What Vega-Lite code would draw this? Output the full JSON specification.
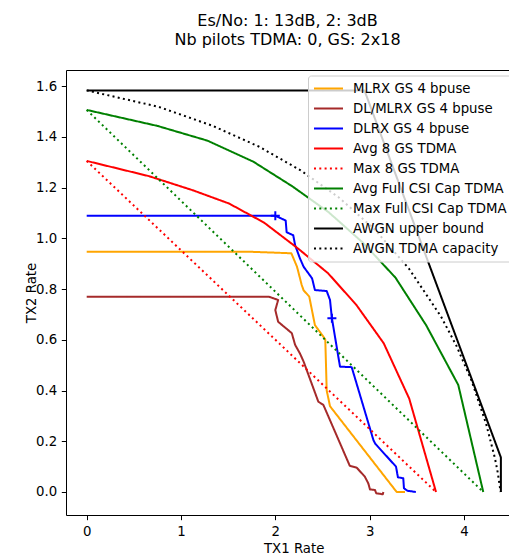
{
  "$schema": "https://vega.github.io/schema/vega-lite/v6.json",
  "width": 443,
  "height": 445,
  "autosize": "none",
  "padding": {"left": 66, "top": 70, "right": 0, "bottom": 41},
  "background": "white",
  "title": {
    "text": ["Es/No: 1: 13dB, 2: 3dB", "Nb pilots TDMA: 0, GS: 2x18"],
    "font": "DejaVu Sans", "fontSize": 16, "fontWeight": "normal", "color": "black",
    "anchor": "middle", "lineHeight": 19, "offset": 22
  },
  "config": {
    "view": {"stroke": null},
    "axis": {"grid": false}
  },
  "datasets": {
    "lines": [
      {"series": "MLRX GS 4 bpuse", "i": 0, "x": 0, "y": 0.947},
      {"series": "MLRX GS 4 bpuse", "i": 1, "x": 1.73, "y": 0.947},
      {"series": "MLRX GS 4 bpuse", "i": 2, "x": 2.17, "y": 0.941},
      {"series": "MLRX GS 4 bpuse", "i": 3, "x": 2.23, "y": 0.888},
      {"series": "MLRX GS 4 bpuse", "i": 4, "x": 2.28, "y": 0.816},
      {"series": "MLRX GS 4 bpuse", "i": 5, "x": 2.30, "y": 0.795},
      {"series": "MLRX GS 4 bpuse", "i": 6, "x": 2.36, "y": 0.77},
      {"series": "MLRX GS 4 bpuse", "i": 7, "x": 2.42, "y": 0.658},
      {"series": "MLRX GS 4 bpuse", "i": 8, "x": 2.51, "y": 0.612},
      {"series": "MLRX GS 4 bpuse", "i": 9, "x": 2.53, "y": 0.60},
      {"series": "MLRX GS 4 bpuse", "i": 10, "x": 2.545, "y": 0.40},
      {"series": "MLRX GS 4 bpuse", "i": 11, "x": 2.58, "y": 0.338},
      {"series": "MLRX GS 4 bpuse", "i": 12, "x": 3.287, "y": 0},
      {"series": "MLRX GS 4 bpuse", "i": 13, "x": 3.375, "y": 0},

      {"series": "DL/MLRX GS 4 bpuse", "i": 0, "x": 0, "y": 0.77},
      {"series": "DL/MLRX GS 4 bpuse", "i": 1, "x": 1.93, "y": 0.77},
      {"series": "DL/MLRX GS 4 bpuse", "i": 2, "x": 2.03, "y": 0.757},
      {"series": "DL/MLRX GS 4 bpuse", "i": 3, "x": 2.0, "y": 0.717},
      {"series": "DL/MLRX GS 4 bpuse", "i": 4, "x": 2.03, "y": 0.671},
      {"series": "DL/MLRX GS 4 bpuse", "i": 5, "x": 2.175, "y": 0.626},
      {"series": "DL/MLRX GS 4 bpuse", "i": 6, "x": 2.21, "y": 0.58},
      {"series": "DL/MLRX GS 4 bpuse", "i": 7, "x": 2.26, "y": 0.547},
      {"series": "DL/MLRX GS 4 bpuse", "i": 8, "x": 2.30, "y": 0.514},
      {"series": "DL/MLRX GS 4 bpuse", "i": 9, "x": 2.456, "y": 0.356},
      {"series": "DL/MLRX GS 4 bpuse", "i": 10, "x": 2.51, "y": 0.343},
      {"series": "DL/MLRX GS 4 bpuse", "i": 11, "x": 2.79, "y": 0.103},
      {"series": "DL/MLRX GS 4 bpuse", "i": 12, "x": 2.863, "y": 0.096},
      {"series": "DL/MLRX GS 4 bpuse", "i": 13, "x": 2.95, "y": 0.06},
      {"series": "DL/MLRX GS 4 bpuse", "i": 14, "x": 2.986, "y": 0.034},
      {"series": "DL/MLRX GS 4 bpuse", "i": 15, "x": 3.004, "y": 0.01},
      {"series": "DL/MLRX GS 4 bpuse", "i": 16, "x": 3.057, "y": 0.008},
      {"series": "DL/MLRX GS 4 bpuse", "i": 17, "x": 3.07, "y": -0.005},
      {"series": "DL/MLRX GS 4 bpuse", "i": 18, "x": 3.14, "y": -0.009},
      {"series": "DL/MLRX GS 4 bpuse", "i": 19, "x": 3.146, "y": 0.0},

      {"series": "DLRX GS 4 bpuse", "i": 0, "x": 0, "y": 1.089},
      {"series": "DLRX GS 4 bpuse", "i": 1, "x": 2.0, "y": 1.089},
      {"series": "DLRX GS 4 bpuse", "i": 2, "x": 2.11, "y": 1.07},
      {"series": "DLRX GS 4 bpuse", "i": 3, "x": 2.12, "y": 1.024},
      {"series": "DLRX GS 4 bpuse", "i": 4, "x": 2.19, "y": 1.012},
      {"series": "DLRX GS 4 bpuse", "i": 5, "x": 2.21, "y": 0.973},
      {"series": "DLRX GS 4 bpuse", "i": 6, "x": 2.26, "y": 0.922},
      {"series": "DLRX GS 4 bpuse", "i": 7, "x": 2.30, "y": 0.888},
      {"series": "DLRX GS 4 bpuse", "i": 8, "x": 2.39, "y": 0.842},
      {"series": "DLRX GS 4 bpuse", "i": 9, "x": 2.42, "y": 0.796},
      {"series": "DLRX GS 4 bpuse", "i": 10, "x": 2.545, "y": 0.792},
      {"series": "DLRX GS 4 bpuse", "i": 11, "x": 2.58, "y": 0.757},
      {"series": "DLRX GS 4 bpuse", "i": 12, "x": 2.60, "y": 0.685},
      {"series": "DLRX GS 4 bpuse", "i": 13, "x": 2.686, "y": 0.494},
      {"series": "DLRX GS 4 bpuse", "i": 14, "x": 2.81, "y": 0.492},
      {"series": "DLRX GS 4 bpuse", "i": 15, "x": 3.04, "y": 0.205},
      {"series": "DLRX GS 4 bpuse", "i": 16, "x": 3.06, "y": 0.19},
      {"series": "DLRX GS 4 bpuse", "i": 17, "x": 3.28, "y": 0.10},
      {"series": "DLRX GS 4 bpuse", "i": 18, "x": 3.30, "y": 0.058},
      {"series": "DLRX GS 4 bpuse", "i": 19, "x": 3.357, "y": 0.054},
      {"series": "DLRX GS 4 bpuse", "i": 20, "x": 3.364, "y": 0.015},
      {"series": "DLRX GS 4 bpuse", "i": 21, "x": 3.40, "y": 0.005},
      {"series": "DLRX GS 4 bpuse", "i": 22, "x": 3.49, "y": 0.0},

      {"series": "Avg 8 GS TDMA", "i": 0, "x": 0, "y": 1.305},
      {"series": "Avg 8 GS TDMA", "i": 1, "x": 0.66, "y": 1.245},
      {"series": "Avg 8 GS TDMA", "i": 2, "x": 1.12, "y": 1.19},
      {"series": "Avg 8 GS TDMA", "i": 3, "x": 1.51, "y": 1.137},
      {"series": "Avg 8 GS TDMA", "i": 4, "x": 1.88, "y": 1.062},
      {"series": "Avg 8 GS TDMA", "i": 5, "x": 2.24, "y": 0.96},
      {"series": "Avg 8 GS TDMA", "i": 6, "x": 2.56, "y": 0.862},
      {"series": "Avg 8 GS TDMA", "i": 7, "x": 2.86, "y": 0.737},
      {"series": "Avg 8 GS TDMA", "i": 8, "x": 3.15, "y": 0.586},
      {"series": "Avg 8 GS TDMA", "i": 9, "x": 3.42, "y": 0.368},
      {"series": "Avg 8 GS TDMA", "i": 10, "x": 3.704, "y": 0},

      {"series": "Max 8 GS TDMA", "i": 0, "x": 0, "y": 1.305},
      {"series": "Max 8 GS TDMA", "i": 1, "x": 3.704, "y": 0},

      {"series": "Avg Full CSI Cap TDMA", "i": 0, "x": 0, "y": 1.506},
      {"series": "Avg Full CSI Cap TDMA", "i": 1, "x": 0.75, "y": 1.443},
      {"series": "Avg Full CSI Cap TDMA", "i": 2, "x": 1.28, "y": 1.385},
      {"series": "Avg Full CSI Cap TDMA", "i": 3, "x": 1.767, "y": 1.302},
      {"series": "Avg Full CSI Cap TDMA", "i": 4, "x": 2.18, "y": 1.205},
      {"series": "Avg Full CSI Cap TDMA", "i": 5, "x": 2.565, "y": 1.103},
      {"series": "Avg Full CSI Cap TDMA", "i": 6, "x": 2.931, "y": 0.982},
      {"series": "Avg Full CSI Cap TDMA", "i": 7, "x": 3.274, "y": 0.845},
      {"series": "Avg Full CSI Cap TDMA", "i": 8, "x": 3.60, "y": 0.657},
      {"series": "Avg Full CSI Cap TDMA", "i": 9, "x": 3.94, "y": 0.422},
      {"series": "Avg Full CSI Cap TDMA", "i": 10, "x": 4.205, "y": 0},

      {"series": "Max Full CSI Cap TDMA", "i": 0, "x": 0, "y": 1.506},
      {"series": "Max Full CSI Cap TDMA", "i": 1, "x": 4.205, "y": 0},

      {"series": "AWGN upper bound", "i": 0, "x": 0, "y": 1.583},
      {"series": "AWGN upper bound", "i": 1, "x": 2.945, "y": 1.583},
      {"series": "AWGN upper bound", "i": 2, "x": 4.392, "y": 0.136},
      {"series": "AWGN upper bound", "i": 3, "x": 4.392, "y": 0},

      {"series": "AWGN TDMA capacity", "i": 0, "x": 0, "y": 1.583},
      {"series": "AWGN TDMA capacity", "i": 1, "x": 0.765, "y": 1.518},
      {"series": "AWGN TDMA capacity", "i": 2, "x": 1.331, "y": 1.444},
      {"series": "AWGN TDMA capacity", "i": 3, "x": 1.823, "y": 1.362},
      {"series": "AWGN TDMA capacity", "i": 4, "x": 2.268, "y": 1.268},
      {"series": "AWGN TDMA capacity", "i": 5, "x": 2.677, "y": 1.160},
      {"series": "AWGN TDMA capacity", "i": 6, "x": 3.059, "y": 1.033},
      {"series": "AWGN TDMA capacity", "i": 7, "x": 3.418, "y": 0.880},
      {"series": "AWGN TDMA capacity", "i": 8, "x": 3.758, "y": 0.691},
      {"series": "AWGN TDMA capacity", "i": 9, "x": 3.921, "y": 0.576},
      {"series": "AWGN TDMA capacity", "i": 10, "x": 4.081, "y": 0.439},
      {"series": "AWGN TDMA capacity", "i": 11, "x": 4.236, "y": 0.268},
      {"series": "AWGN TDMA capacity", "i": 12, "x": 4.329, "y": 0.133},
      {"series": "AWGN TDMA capacity", "i": 13, "x": 4.359, "y": 0.076},
      {"series": "AWGN TDMA capacity", "i": 14, "x": 4.389, "y": 0}
    ],
    "markers": [
      {"x": 2.0, "y": 1.089},
      {"x": 2.60, "y": 0.685}
    ]
  },
  "layer": [
    {
      "data": {"name": "lines"},
      "mark": {"type": "line", "strokeWidth": 2, "strokeJoin": "round", "clip": true},
      "encoding": {
        "x": {
          "field": "x", "type": "quantitative",
          "scale": {"domain": [-0.2195, 4.478], "nice": false, "zero": false},
          "axis": {
            "orient": "bottom", "values": [0, 1, 2, 3, 4], "format": "d",
            "title": "TX1 Rate", "titleFont": "DejaVu Sans", "titleFontSize": 13.3, "titleFontWeight": "normal", "titleColor": "black",
            "titleX": 227.7, "titleY": 37.7, "titleBaseline": "alphabetic", "titleAlign": "center",
            "labelFont": "DejaVu Sans", "labelFontSize": 13.3, "labelColor": "black", "labelPadding": 4.8,
            "tickColor": "black", "tickWidth": 1, "tickSize": 4.7,
            "domainColor": "black", "domainWidth": 1, "grid": false
          }
        },
        "y": {
          "field": "y", "type": "quantitative",
          "scale": {"domain": [-0.0907, 1.6634], "nice": false, "zero": false},
          "axis": {
            "values": [0, 0.2, 0.4, 0.6, 0.8, 1.0, 1.2, 1.4, 1.6], "format": ".1f",
            "title": "TX2 Rate", "titleFont": "DejaVu Sans", "titleFontSize": 13.3, "titleFontWeight": "normal", "titleColor": "black",
            "titleX": -31, "titleY": 222.5, "titleAngle": 270, "titleBaseline": "alphabetic", "titleAlign": "center",
            "labelFont": "DejaVu Sans", "labelFontSize": 13.3, "labelColor": "black", "labelPadding": 4.7,
            "tickColor": "black", "tickWidth": 1, "tickSize": 4.7,
            "domainColor": "black", "domainWidth": 1, "grid": false
          }
        },
        "order": {"field": "i", "type": "quantitative"},
        "color": {
          "field": "series", "type": "nominal",
          "scale": {
            "domain": ["MLRX GS 4 bpuse", "DL/MLRX GS 4 bpuse", "DLRX GS 4 bpuse", "Avg 8 GS TDMA", "Max 8 GS TDMA", "Avg Full CSI Cap TDMA", "Max Full CSI Cap TDMA", "AWGN upper bound", "AWGN TDMA capacity"],
            "range": ["#ffa500", "#a52a2a", "#0000ff", "#ff0000", "#ff0000", "#008000", "#008000", "#000000", "#000000"]
          },
          "legend": {
            "title": null, "orient": "none", "legendX": 242, "legendY": 5.5,
            "symbolType": "stroke", "symbolSize": 841, "symbolStrokeWidth": 2,
            "labelFont": "DejaVu Sans", "labelFontSize": 13.3, "labelColor": "black", "labelOffset": 9, "labelLimit": 400,
            "padding": 5, "clipHeight": 16, "rowPadding": 4,
            "fillColor": "rgba(255,255,255,0.8)", "strokeColor": "#cccccc", "cornerRadius": 3
          }
        },
        "strokeDash": {
          "field": "series", "type": "nominal",
          "scale": {
            "domain": ["MLRX GS 4 bpuse", "DL/MLRX GS 4 bpuse", "DLRX GS 4 bpuse", "Avg 8 GS TDMA", "Max 8 GS TDMA", "Avg Full CSI Cap TDMA", "Max Full CSI Cap TDMA", "AWGN upper bound", "AWGN TDMA capacity"],
            "range": [[1, 0], [1, 0], [1, 0], [1, 0], [2, 3.3], [1, 0], [2, 3.3], [1, 0], [2, 3.3]]
          },
          "legend": {
            "title": null, "orient": "none", "legendX": 242, "legendY": 5.5,
            "symbolType": "stroke", "symbolSize": 841, "symbolStrokeWidth": 2,
            "labelFont": "DejaVu Sans", "labelFontSize": 13.3, "labelColor": "black", "labelOffset": 9, "labelLimit": 400,
            "padding": 5, "clipHeight": 16, "rowPadding": 4,
            "fillColor": "rgba(255,255,255,0.8)", "strokeColor": "#cccccc", "cornerRadius": 3
          }
        }
      }
    },
    {
      "data": {"name": "markers"},
      "mark": {"type": "point", "shape": "M-1,0H1M0,-1V1", "size": 81, "filled": false, "stroke": "#0000ff", "strokeWidth": 2, "opacity": 1},
      "encoding": {
        "x": {
          "field": "x", "type": "quantitative",
          "scale": {"domain": [-0.2195, 4.478], "nice": false, "zero": false},
          "axis": {"orient": "top", "labels": false, "ticks": false, "title": null, "domain": true, "domainColor": "black", "domainWidth": 1, "grid": false}
        },
        "y": {"field": "y", "type": "quantitative"}
      }
    }
  ],
  "resolve": {"axis": {"x": "independent"}}
}
